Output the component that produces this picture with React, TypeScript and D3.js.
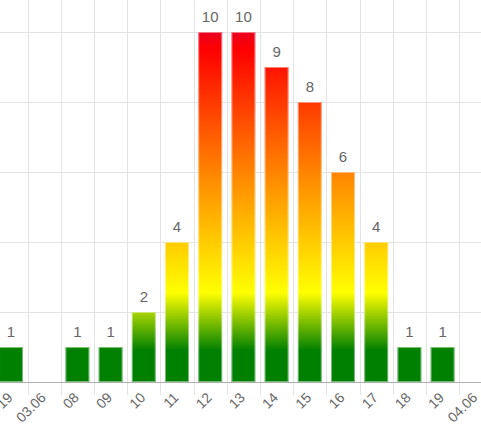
import React from "react";
import * as d3 from "d3";

const categories = ["19", "03.06", "08", "09", "10", "11", "12", "13", "14", "15", "16", "17", "18", "19", "04.06"];
const values: (number | null)[] = [1, null, 1, 1, 2, 4, 10, 10, 9, 8, 6, 4, 1, 1, null];
const gridValues = [2, 4, 6, 8, 10];

const W = 481;
const H = 438;

export default function App() {
  const idx = categories.map((_, i) => String(i));
  const x = d3.scaleBand<string>().domain(idx).range([-5.6, 492.4]).paddingInner(0.28).paddingOuter(0.14);
  const step = x.step();
  const y = d3.scaleLinear().domain([0, 10]).range([382, 32]);
  const baseY = y(0);

  return (
    <svg width={W} height={H} style={{ position: "absolute", left: 0, top: 0, display: "block" }}
      fontFamily="'Liberation Sans', Arial, Helvetica, sans-serif">
      <defs>
        <linearGradient id="barGrad" gradientUnits="userSpaceOnUse" x1={0} y1={y(0)} x2={0} y2={y(10)}>
          <stop offset="0" stopColor="#008000" />
          <stop offset="0.09" stopColor="#008000" />
          <stop offset="0.255" stopColor="#ffff00" />
          <stop offset="0.6" stopColor="#ff8400" />
          <stop offset="0.95" stopColor="#ff0000" />
          <stop offset="1" stopColor="#ea0020" />
        </linearGradient>
        <clipPath id="clipAll"><rect x={0} y={0} width={W} height={H} /></clipPath>
      </defs>
      <g clipPath="url(#clipAll)">
        {gridValues.map((v) => (
          <line key={"h" + v} x1={0} x2={W} y1={Math.round(y(v)) + 0.5} y2={Math.round(y(v)) + 0.5} stroke="#e4e4e4" strokeWidth={1} />
        ))}
        {idx.map((k) => {
          const gx = Math.round((x(k) as number) - step * 0.14) + 0.5;
          return <line key={"v" + k} x1={gx} x2={gx} y1={0} y2={395} stroke="#e4e4e4" strokeWidth={1} />;
        })}
        {idx.map((k, i) => {
          const v = values[i];
          if (v == null) return null;
          const bx = x(k) as number;
          const bw = x.bandwidth();
          const top = y(v);
          return (
            <g key={"b" + k}>
              <rect x={bx} y={top} width={bw} height={baseY - top} fill="url(#barGrad)" />
              <rect x={bx + 0.5} y={top + 0.5} width={bw - 1} height={baseY - top - 1} fill="none" stroke="#ffffff" strokeOpacity={0.45} strokeWidth={1} />
              <text x={bx + bw / 2} y={top - 10} textAnchor="middle" fontSize={15} fill="#666">{v}</text>
            </g>
          );
        })}
        <line x1={0} x2={W} y1={382.5} y2={382.5} stroke="#b0b0b0" strokeWidth={1} />
        {idx.map((k, i) => {
          const cx = (x(k) as number) + x.bandwidth() / 2;
          return (
            <text key={"t" + k} transform={`translate(${cx - 1},${395}) rotate(-45)`} textAnchor="end" dy="0.35em" fontSize={14} fill="#666">
              {categories[i]}
            </text>
          );
        })}
      </g>
    </svg>
  );
}
